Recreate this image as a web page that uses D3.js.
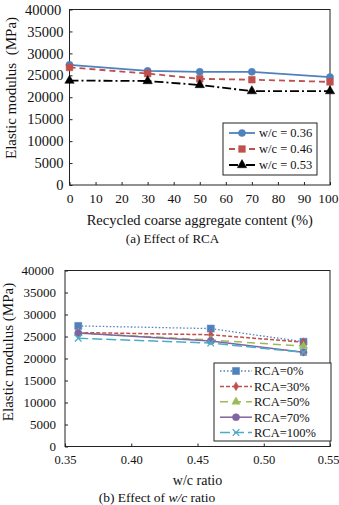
<!DOCTYPE html>
<html>
<head>
<meta charset="utf-8">
<script src="https://cdn.jsdelivr.net/npm/d3@7"></script>
<style>
  body { margin: 0; background: #fff; }
  svg { display: block; font-family: "Liberation Serif", "Times New Roman", serif; }
</style>
</head>
<body>
<svg id="chart" width="339" height="505"></svg>
<script>
// ---- data ----
// panel (a): x = recycled coarse aggregate content (%)
var rcaContent = [0, 30, 50, 70, 100];
var wc036 = [27400, 26000, 25800, 25800, 24600];
var wc046 = [26800, 25400, 24200, 24000, 23500];
var wc053 = [23800, 23700, 22800, 21400, 21400];

// panel (b): x = w/c ratio
var wcRatio = [0.36, 0.46, 0.53];
var rca0 = [27400, 26800, 23800];
var rca30 = [25900, 25400, 23700];
var rca50 = [25800, 24200, 22800];
var rca70 = [25800, 24000, 21400];
var rca100 = [24600, 23500, 21400];

// tick labels
var yTicks = [0, 5000, 10000, 15000, 20000, 25000, 30000, 35000, 40000];
var xTicksA = [0, 10, 20, 30, 40, 50, 60, 70, 80, 90, 100];
var xTicksB = [0.35, 0.40, 0.45, 0.50, 0.55];

var svg = d3.select("#chart");

var symX = d3.symbolTimes || d3.symbolX;

// shared look for both axes: serif text, dark inward ticks, no domain line
function styleAxis(a, fontSize) {
  a.attr("font-family", null).attr("font-size", null);
  a.select(".domain").remove();
  a.selectAll("line").attr("stroke", "#222");
  a.selectAll("text").attr("fill", "#111").style("font-size", fontSize + "px");
}

/*
  draws one panel: box, inside ticks, lines with markers and a legend box
*/
function drawPanel(p) {
  var x = d3.scaleLinear().domain(p.xDomain).range([p.left, p.right]);
  var y = d3.scaleLinear().domain([0, 40000]).range([p.bottom, p.top]);
  var g = svg.append("g");

  // x axis (ticks point inward)
  g.append("g")
    .attr("transform", "translate(0," + p.bottom + ")")
    .call(d3.axisBottom(x).tickValues(p.xTicks).tickSize(-3).tickPadding(p.xPad).tickFormat(p.xFormat))
    .call(styleAxis, p.xTickFont);

  // y axis
  g.append("g")
    .attr("transform", "translate(" + p.left + ",0)")
    .call(d3.axisLeft(y).tickValues(yTicks).tickSize(-3).tickPadding(p.yPad).tickFormat(d3.format("d")))
    .call(styleAxis, p.yTickFont);

  // plot box
  g.append("rect")
    .attr("x", p.left).attr("y", p.top)
    .attr("width", p.right - p.left).attr("height", p.bottom - p.top)
    .attr("fill", "none").attr("stroke", "#222").attr("stroke-width", 1);

  var line = d3.line()
    .x(function(d) { return x(d[0]); })
    .y(function(d) { return y(d[1]); });

  p.series.forEach(function(s) {
    var pts = p.xs.map(function(v, i) { return [v, s.values[i]]; });
    g.append("path")
      .attr("d", line(pts))
      .attr("fill", "none")
      .attr("stroke", s.color)
      .attr("stroke-width", s.width)
      .attr("stroke-dasharray", s.dash);
    g.selectAll(null)
      .data(pts)
      .enter()
      .append("path")
      .attr("transform", function(d) { return "translate(" + x(d[0]) + "," + y(d[1]) + ")"; })
      .attr("d", d3.symbol().type(s.symbol).size(s.size))
      .attr("fill", s.symbol === symX ? "none" : s.color)
      .attr("stroke", s.color)
      .attr("stroke-width", s.symbol === symX ? 1.3 : 0.5);
  });

  // legend
  var L = p.legend;
  g.append("rect")
    .attr("x", L.x).attr("y", L.y).attr("width", L.w).attr("height", L.h)
    .attr("fill", "#fff").attr("stroke", "#222").attr("stroke-width", 1);
  p.series.forEach(function(s, i) {
    var ly = L.y + L.first + i * L.step;
    g.append("line")
      .attr("x1", L.x + L.lineX0).attr("x2", L.x + L.lineX1)
      .attr("y1", ly).attr("y2", ly)
      .attr("stroke", s.color).attr("stroke-width", s.width)
      .attr("stroke-dasharray", s.dash);
    g.append("path")
      .attr("transform", "translate(" + (L.x + (L.lineX0 + L.lineX1) / 2) + "," + ly + ")")
      .attr("d", d3.symbol().type(s.symbol).size(s.size))
      .attr("fill", s.symbol === symX ? "none" : s.color)
      .attr("stroke", s.color)
      .attr("stroke-width", s.symbol === symX ? 1.3 : 0.5);
    g.append("text")
      .attr("x", L.x + L.textX).attr("y", ly)
      .attr("dy", "0.35em")
      .style("font-size", L.font + "px")
      .attr("fill", "#111")
      .text(s.name);
  });

  // y axis title
  g.append("text")
    .attr("transform", "translate(" + p.yTitleX + "," + p.yTitleY + ") rotate(-90)")
    .attr("text-anchor", "middle")
    .style("font-size", p.yTitleFont + "px")
    .style("white-space", "pre")
    .attr("fill", "#111")
    .text(p.yTitle);

  // x axis title
  g.append("text")
    .attr("x", (p.left + p.right) / 2).attr("y", p.xTitleY)
    .attr("text-anchor", "middle")
    .style("font-size", p.xTitleFont + "px")
    .attr("fill", "#111")
    .text(p.xTitle);

  return g;
}

// ---- panel (a) ----
var ga = drawPanel({
  left: 69.5, right: 330, top: 9.5, bottom: 185,
  xDomain: [0, 100], xTicks: xTicksA, xFormat: d3.format("d"),
  xs: rcaContent, xTickFont: 13.5, yTickFont: 14.5, xPad: 8, yPad: 6,
  series: [
    { name: "w/c = 0.36", values: wc036, color: "#4F81BD", width: 1.8, dash: null, symbol: d3.symbolCircle, size: 40 },
    { name: "w/c = 0.46", values: wc046, color: "#C0504D", width: 1.8, dash: "6,4", symbol: d3.symbolSquare, size: 45 },
    { name: "w/c = 0.53", values: wc053, color: "#000000", width: 1.8, dash: "9,3,2,3", symbol: d3.symbolTriangle, size: 38 }
  ],
  legend: { x: 223, y: 123, w: 94, h: 52, first: 10, step: 16, lineX0: 6, lineX1: 32, textX: 36, font: 12.5 },
  yTitle: "Elastic modulus  (MPa)", yTitleX: 16, yTitleY: 88, yTitleFont: 15,
  xTitle: "Recycled coarse aggregate content (%)", xTitleY: 225, xTitleFont: 14.5
});

ga.append("text")
  .attr("x", 172.5).attr("y", 243)
  .attr("text-anchor", "middle")
  .style("font-size", "13px")
  .attr("fill", "#111")
  .text("(a) Effect of RCA");

// ---- panel (b) ----
var gb = drawPanel({
  left: 65, right: 330, top: 270.5, bottom: 446.5,
  xDomain: [0.35, 0.55], xTicks: xTicksB, xFormat: d3.format(".2f"),
  xs: wcRatio, xTickFont: 12.5, yTickFont: 13, xPad: 9, yPad: 9,
  series: [
    { name: "RCA=0%", values: rca0, color: "#4F81BD", width: 1.3, dash: "1.5,2", symbol: d3.symbolSquare, size: 50 },
    { name: "RCA=30%", values: rca30, color: "#C0504D", width: 1.5, dash: "4,2", symbol: d3.symbolDiamond, size: 22 },
    { name: "RCA=50%", values: rca50, color: "#9BBB59", width: 1.5, dash: "8,5", symbol: d3.symbolTriangle, size: 30 },
    { name: "RCA=70%", values: rca70, color: "#8064A2", width: 1.5, dash: null, symbol: d3.symbolCircle, size: 40 },
    { name: "RCA=100%", values: rca100, color: "#4BACC6", width: 1.5, dash: "10,4", symbol: symX, size: 30 }
  ],
  legend: { x: 214, y: 363, w: 117, h: 78, first: 8, step: 15.4, lineX0: 6, lineX1: 38, textX: 40, font: 12.5 },
  yTitle: "Elastic modulus (MPa)", yTitleX: 13, yTitleY: 352, yTitleFont: 15,
  xTitle: "w/c ratio", xTitleY: 485, xTitleFont: 14
});

// the last tick labels sit at the very right edge of the picture; nudge them in
svg.selectAll(".tick:last-of-type text").attr("dx", "-0.15em");

var cap = gb.append("text")
  .attr("x", 157).attr("y", 502)
  .attr("text-anchor", "middle")
  .style("font-size", "13.5px")
  .attr("fill", "#111");
cap.append("tspan").text("(b) Effect of ");
cap.append("tspan").style("font-style", "italic").text("w/c");
cap.append("tspan").text(" ratio");
</script>
</body>
</html>
